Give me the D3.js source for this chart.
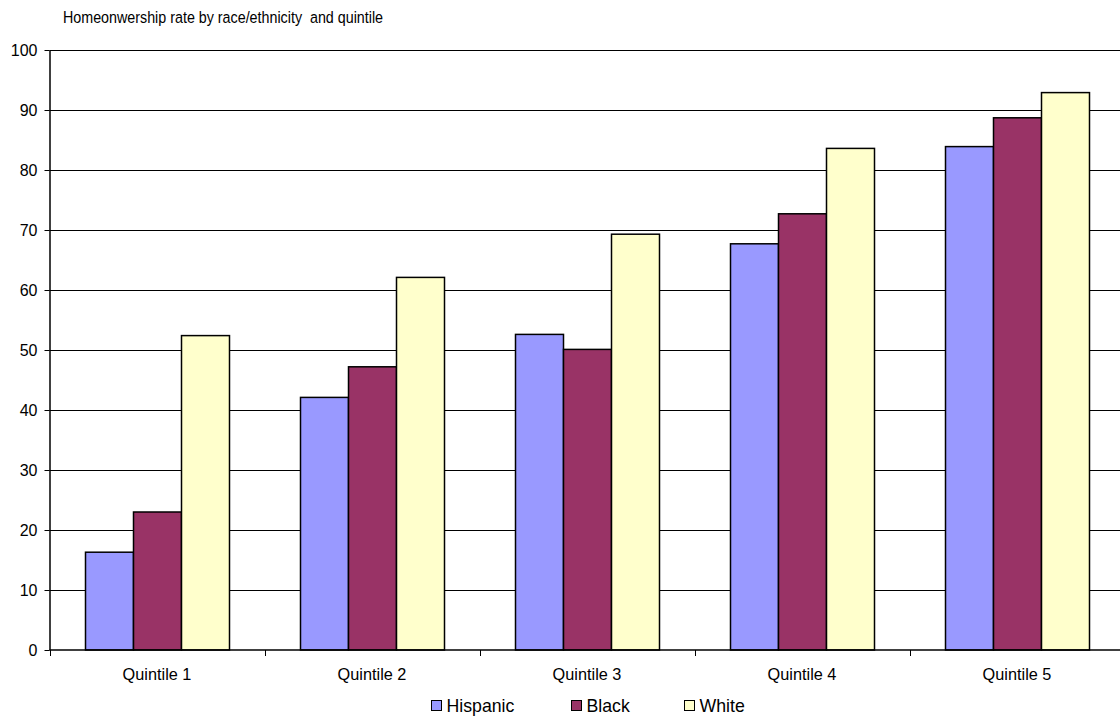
<!DOCTYPE html>
<html>
<head>
<meta charset="utf-8">
<script src="https://cdn.jsdelivr.net/npm/d3@7"></script>
<style>
  html, body { margin: 0; padding: 0; background: #fff; }
  svg { display: block; font-family: "Liberation Sans", Arial, sans-serif; }
</style>
</head>
<body>
<svg id="chart" width="1120" height="719"></svg>
<script>
// Homeownership rate (%) by income quintile and race/ethnicity
const quintiles = ["Quintile 1", "Quintile 2", "Quintile 3", "Quintile 4", "Quintile 5"];
const seriesNames = ["Hispanic", "Black", "White"];
const hispanic = [16.3, 42.1, 52.6, 67.7, 83.9];
const black    = [23.0, 47.2, 50.1, 72.7, 88.7];
const white    = [52.4, 62.1, 69.3, 83.6, 92.9];
const yTicks = [0, 10, 20, 30, 40, 50, 60, 70, 80, 90, 100];
const colors = ["#9999ff", "#993366", "#ffffcc"];
const titleText = "Homeonwership rate by race/ethnicity  and quintile";

const values = [hispanic, black, white];
const rows = quintiles.map((q, i) => ({
  q, vals: seriesNames.map((s, j) => ({ s, j, v: values[j][i] }))
}));

const svg = d3.select("#chart");
const plotLeft = 49.5, plotRight = 1124.5, plotTop = 50, plotBottom = 650;

const x0 = d3.scaleBand().domain(quintiles).range([plotLeft, plotRight]);
const x1 = d3.scaleBand().domain(seriesNames).range([36, 180]);
const y = d3.scaleLinear().domain([0, 100]).range([plotBottom, plotTop]);

// title (double space kept)
svg.append("text")
  .attr("transform", "translate(63,22.7) scale(1,1.2)")
  .attr("font-size", 14.3)
  .attr("fill", "#000")
  .style("white-space", "pre")
  .text(titleText);

// horizontal gridlines
svg.append("g").selectAll("line")
  .data(yTicks.filter(t => t > 0))
  .join("line")
  .attr("x1", plotLeft).attr("x2", plotRight)
  .attr("y1", d => Math.round(y(d)) + 0.5)
  .attr("y2", d => Math.round(y(d)) + 0.5)
  .attr("stroke", "#000").attr("stroke-width", 1);

// bars
const groups = svg.append("g").selectAll("g")
  .data(rows)
  .join("g")
  .attr("transform", d => `translate(${x0(d.q)},0)`);

groups.selectAll("rect")
  .data(d => d.vals)
  .join("rect")
  .attr("x", d => x1(d.s))
  .attr("width", x1.bandwidth())
  .attr("y", d => y(d.v))
  .attr("height", d => y(0) - y(d.v))
  .attr("fill", d => colors[d.j])
  .attr("stroke", "#000").attr("stroke-width", 1.5);

// y axis
const yAxis = d3.axisLeft(y).tickValues(yTicks).tickSize(5).tickPadding(7).tickSizeOuter(0);
const gy = svg.append("g")
  .attr("transform", `translate(${plotLeft},0)`)
  .call(yAxis);
gy.select(".domain").attr("stroke", "#000").attr("stroke-width", 1.5);
gy.selectAll(".tick line").attr("stroke", "#000");
gy.selectAll(".tick text")
  .attr("font-family", "Liberation Sans, Arial, sans-serif")
  .attr("font-size", 16).attr("fill", "#000");

// x axis: ticks at category boundaries
const gx = svg.append("g").attr("transform", `translate(0,${plotBottom})`);
gx.append("line")
  .attr("x1", plotLeft).attr("x2", plotRight)
  .attr("y1", 0).attr("y2", 0)
  .attr("stroke", "#000").attr("stroke-width", 1.5);
const boundaries = quintiles.map(q => x0(q)).concat([plotRight]);
gx.selectAll("line.tk")
  .data(boundaries)
  .join("line").attr("class", "tk")
  .attr("x1", d => Math.round(d) + 0.5).attr("x2", d => Math.round(d) + 0.5)
  .attr("y1", 0).attr("y2", 6)
  .attr("stroke", "#000");
gx.selectAll("text")
  .data(quintiles)
  .join("text")
  .attr("x", d => x0(d) + x0.bandwidth() / 2)
  .attr("y", 30)
  .attr("text-anchor", "middle")
  .attr("font-size", 16.3)
  .attr("fill", "#000")
  .text(d => d);

// legend
const legendX = [431, 571, 684];
const lg = svg.append("g").selectAll("g")
  .data(seriesNames)
  .join("g")
  .attr("transform", (d, i) => `translate(${legendX[i]},700)`);
lg.append("rect")
  .attr("x", 0.5).attr("y", 0.5)
  .attr("width", 10).attr("height", 10)
  .attr("fill", (d, i) => colors[i])
  .attr("stroke", "#000").attr("stroke-width", 1);
lg.append("text")
  .attr("x", 15.5).attr("y", 12.3)
  .attr("font-size", 17.7)
  .attr("fill", "#000")
  .text(d => d);
</script>
</body>
</html>
